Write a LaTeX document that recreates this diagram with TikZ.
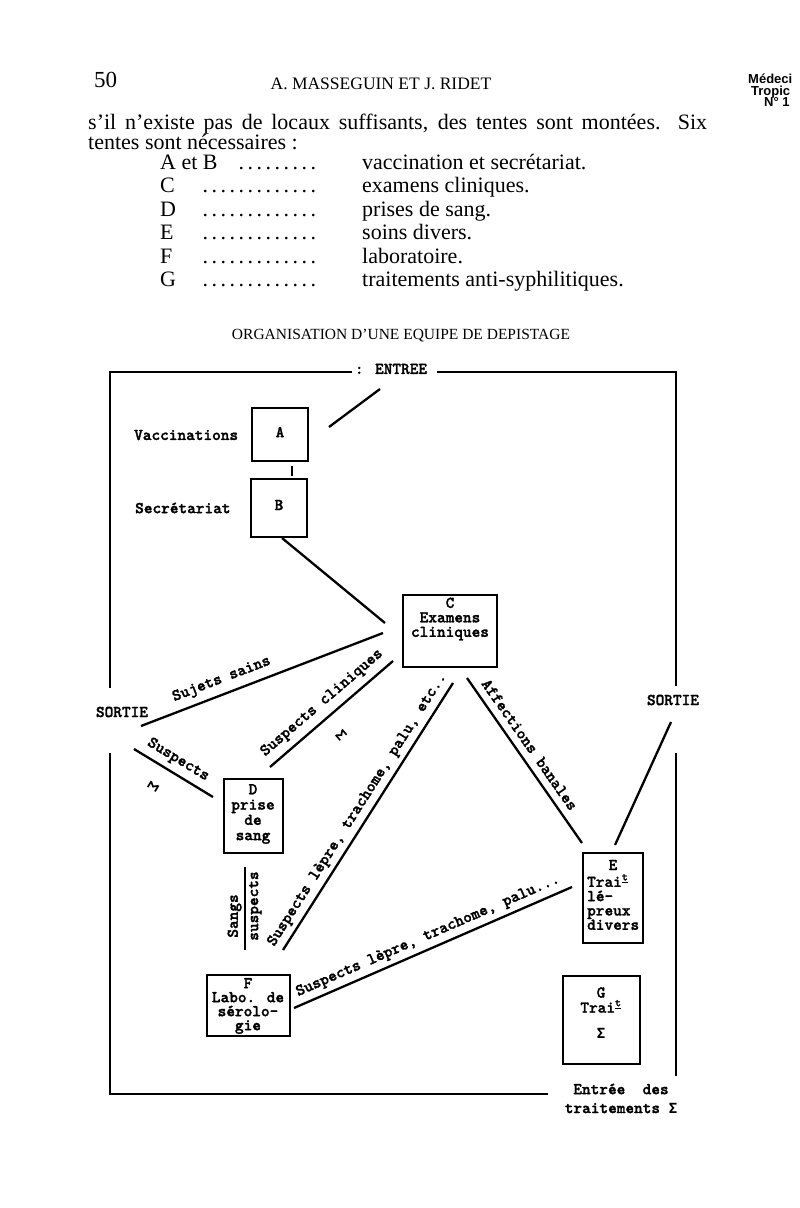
\documentclass[tikz,border=0pt]{standalone}
\usepackage{graphicx}
\usepackage{fontspec}
\setmainfont{Liberation Serif}
\newfontfamily\hsans{Liberation Sans}
\newfontfamily\sigfont{DejaVu Sans Mono}
\newfontfamily\tw{lmmonolt10-bold}[Extension=.otf, FakeBold=1.6]
\newcommand{\Sg}{{\sigfont\bfseries\fontsize{14}{14}\selectfont Σ}}
\newcommand{\ldts}[1]{\hbox to #1{\xleaders\hbox to 9pt{\hss.\hss}\hfill}}
\begin{document}
\begin{tikzpicture}[x=1pt,y=-1pt,
  box/.style={draw, line width=2.6pt, inner sep=0pt},
  wire/.style={line width=2.3pt},
  frame/.style={line width=2.8pt},
  tt/.style={font=\tw\fontsize{16.5}{14.5}\selectfont, inner sep=0pt},
  lbl/.style={tt, sloped, text height=9pt, text depth=2pt},
  body/.style={font=\fontsize{22}{24}\selectfont, inner sep=0pt},
]
\useasboundingbox[fill=white] (0,0) rectangle (800,1208);

% ---- page header
\node[font=\fontsize{23}{24}\selectfont, anchor=base west, inner sep=0pt] (pnum) at (94,87) {50};
\node[font=\fontsize{17.5}{18}\selectfont, anchor=base, inner sep=0pt] (runhead) at (381,89) {A. MASSEGUIN ET J. RIDET};
\node[font=\hsans\bfseries\fontsize{13}{13}\selectfont, anchor=base west, inner sep=0pt] (jr1) at (748,83) {Médeci};
\node[font=\hsans\bfseries\fontsize{13}{13}\selectfont, anchor=base west, inner sep=0pt] (jr2) at (751,95) {Tropic};
\node[font=\hsans\bfseries\fontsize{13}{13}\selectfont, anchor=base west, inner sep=0pt] (jr3) at (764,106) {N° 1};

% ---- paragraph
\node[body, anchor=base west] (l1) at (88,129) {\hbox to 619pt{s'il n'existe pas de locaux suffisants, des tentes sont montées. Six}};
\node[body, anchor=base west] (l2) at (88,149) {tentes sont nécessaires :};

\node[body, anchor=base west] (kAB) at (160,169) {A et B};
\node[body, anchor=base east] (dAB) at (318,169) {\ldts{81pt}};
\node[body, anchor=base west] (vAB) at (362,169) {vaccination et secrétariat.};
\node[body, anchor=base west] (kC) at (160,192) {C};
\node[body, anchor=base east] (dC) at (318,192) {\ldts{117pt}};
\node[body, anchor=base west] (vC) at (362,192) {examens cliniques.};
\node[body, anchor=base west] (kD) at (160,216) {D};
\node[body, anchor=base east] (dD) at (318,216) {\ldts{117pt}};
\node[body, anchor=base west] (vD) at (362,216) {prises de sang.};
\node[body, anchor=base west] (kE) at (160,239) {E};
\node[body, anchor=base east] (dE) at (318,239) {\ldts{117pt}};
\node[body, anchor=base west] (vE) at (362,239) {soins divers.};
\node[body, anchor=base west] (kF) at (160,263) {F};
\node[body, anchor=base east] (dF) at (318,263) {\ldts{117pt}};
\node[body, anchor=base west] (vF) at (362,263) {laboratoire.};
\node[body, anchor=base west] (kG) at (160,286) {G};
\node[body, anchor=base east] (dG) at (318,286) {\ldts{117pt}};
\node[body, anchor=base west] (vG) at (362,286) {traitements anti-syphilitiques.};

% ---- title
\node[font=\fontsize{15.5}{16}\selectfont, anchor=base, inner sep=0pt] (title) at (401,339) {ORGANISATION D'UNE EQUIPE DE DEPISTAGE};

% ---- frame
\coordinate (tl) at (110,372);
\coordinate (tlm) at (352,372);
\coordinate (trm) at (437,372);
\coordinate (tr) at (676,372);
\coordinate (rU) at (676,686);
\coordinate (rL) at (676,753);
\coordinate (rB) at (676,1076);
\coordinate (lU) at (110,688);
\coordinate (lL) at (110,753);
\coordinate (bl) at (110,1094);
\coordinate (bE) at (548,1094);
\draw[frame] (tlm) -- (tl) -- (lU);
\draw[frame] (lL) -- (bl) -- (bE);
\draw[frame] (trm) -- (tr) -- (rU);
\draw[frame] (rL) -- (rB);

\node[tt] (entree) at (391,369) {: ENTREE};
\node[tt] (sortieL) at (122,712) {SORTIE};
\node[tt] (sortieR) at (673,700) {SORTIE};
\node[tt, anchor=west] (vacc) at (134,435) {Vaccinations};
\node[tt, anchor=west] (secr) at (135,508) {Secrétariat};

% ---- boxes
\node[box, minimum width=56pt, minimum height=53pt] (A) at (280,434.5) {};
\node[box, minimum width=56pt, minimum height=58pt] (B) at (279,508) {};
\node[box, minimum width=94pt, minimum height=72pt] (C) at (450,631) {};
\node[box, minimum width=59pt, minimum height=74pt] (D) at (253.5,816) {};
\node[box, minimum width=60pt, minimum height=90pt] (E) at (613,898) {};
\node[box, minimum width=83pt, minimum height=61pt] (F) at (248.5,1005.5) {};
\node[box, minimum width=77pt, minimum height=88pt] (G) at (601.5,1020) {};

\node[tt] (tA) at (280,432) {A};
\node[tt] (tB) at (279,505) {B};
\node[tt, align=center] (tC) at (450,619) {C\\Examens\\cliniques};
\node[tt, align=center, font=\tw\fontsize{16.5}{15.3}\selectfont] (tD) at (253,814) {D\\prise\\de\\sang};
\node[tt] (tE1) at (613,865) {E};
\node[tt, align=left, anchor=west, font=\tw\fontsize{16.5}{14.3}\selectfont] (tE2) at (587,902) {Trai\textsuperscript{\underline{t}}\\lé-\\preux\\divers};
\node[tt, align=center, font=\tw\fontsize{16.5}{14}\selectfont] (tF) at (248,1006) {F\\Labo. de\\sérolo-\\gie};
\node[tt, align=center, font=\tw\fontsize{16.5}{15}\selectfont] (tG) at (601,1000) {G\\Trai\textsuperscript{\underline{t}}};
\node[tt] (tGs) at (601,1033) {\Sg};
\node[tt] (ent1) at (621,1089) {Entrée~ des};
\node[tt] (ent2) at (621,1108) {traitements \Sg};

% ---- connectors
\coordinate (e1) at (380,389);
\coordinate (e2) at (329,427);
\draw[wire] (e1) -- (e2);
\coordinate (ab1) at (292,466);
\coordinate (ab2) at (292,476);
\draw[wire] (ab1) -- (ab2);
\coordinate (bc1) at (282,538);
\coordinate (bc2) at (385,623);
\draw[wire] (bc1) -- (bc2);

\coordinate (ss1) at (141,726);
\coordinate (ss2) at (383,633);
\draw[wire] (ss1) -- node[lbl, above=8pt, pos=0.355] (lSS) {Sujets sains} (ss2);

\coordinate (sc1) at (270,767);
\coordinate (sc2) at (393,661);
\draw[wire] (sc1) -- node[lbl, above=8pt, pos=0.5] (lSC) {Suspects cliniques}
  node[lbl, below=8pt, pos=0.46] (lSCs) {\rotatebox{-90}{\Sg}} (sc2);

\coordinate (sp1) at (134,749);
\coordinate (sp2) at (213,797);
\draw[wire] (sp1) -- node[lbl, above=7pt, pos=0.47] (lSP) {Suspects}
  node[lbl, below=8pt, pos=0.39] (lSPs) {\rotatebox{-90}{\Sg}} (sp2);

\coordinate (lg1) at (283,950);
\coordinate (lg2) at (453,683);
\draw[wire] (lg1) -- node[lbl, above=6pt, pos=0.5] (lLG) {Suspects lèpre, trachome, palu, etc..} (lg2);

\coordinate (af1) at (467,678);
\coordinate (af2) at (582,843);
\draw[wire] (af1) -- node[lbl, above=5pt, pos=0.45] (lAF) {Affections banales} (af2);

\coordinate (es1) at (615,845);
\coordinate (es2) at (671,722);
\draw[wire] (es1) -- (es2);

\coordinate (sg1) at (245,950);
\coordinate (sg2) at (245,867);
\draw[wire] (sg1) -- node[lbl, above=4pt, pos=0.41] (lSG) {Sangs}
  node[lbl, below=3pt, pos=0.53] (lSU) {suspects} (sg2);

\coordinate (fe1) at (294,1008);
\coordinate (fe2) at (572,887);
\draw[wire] (fe1) -- node[lbl, above=6pt, pos=0.5] (lFE) {Suspects lèpre, trachome, palu...} (fe2);
\end{tikzpicture}
\end{document}
